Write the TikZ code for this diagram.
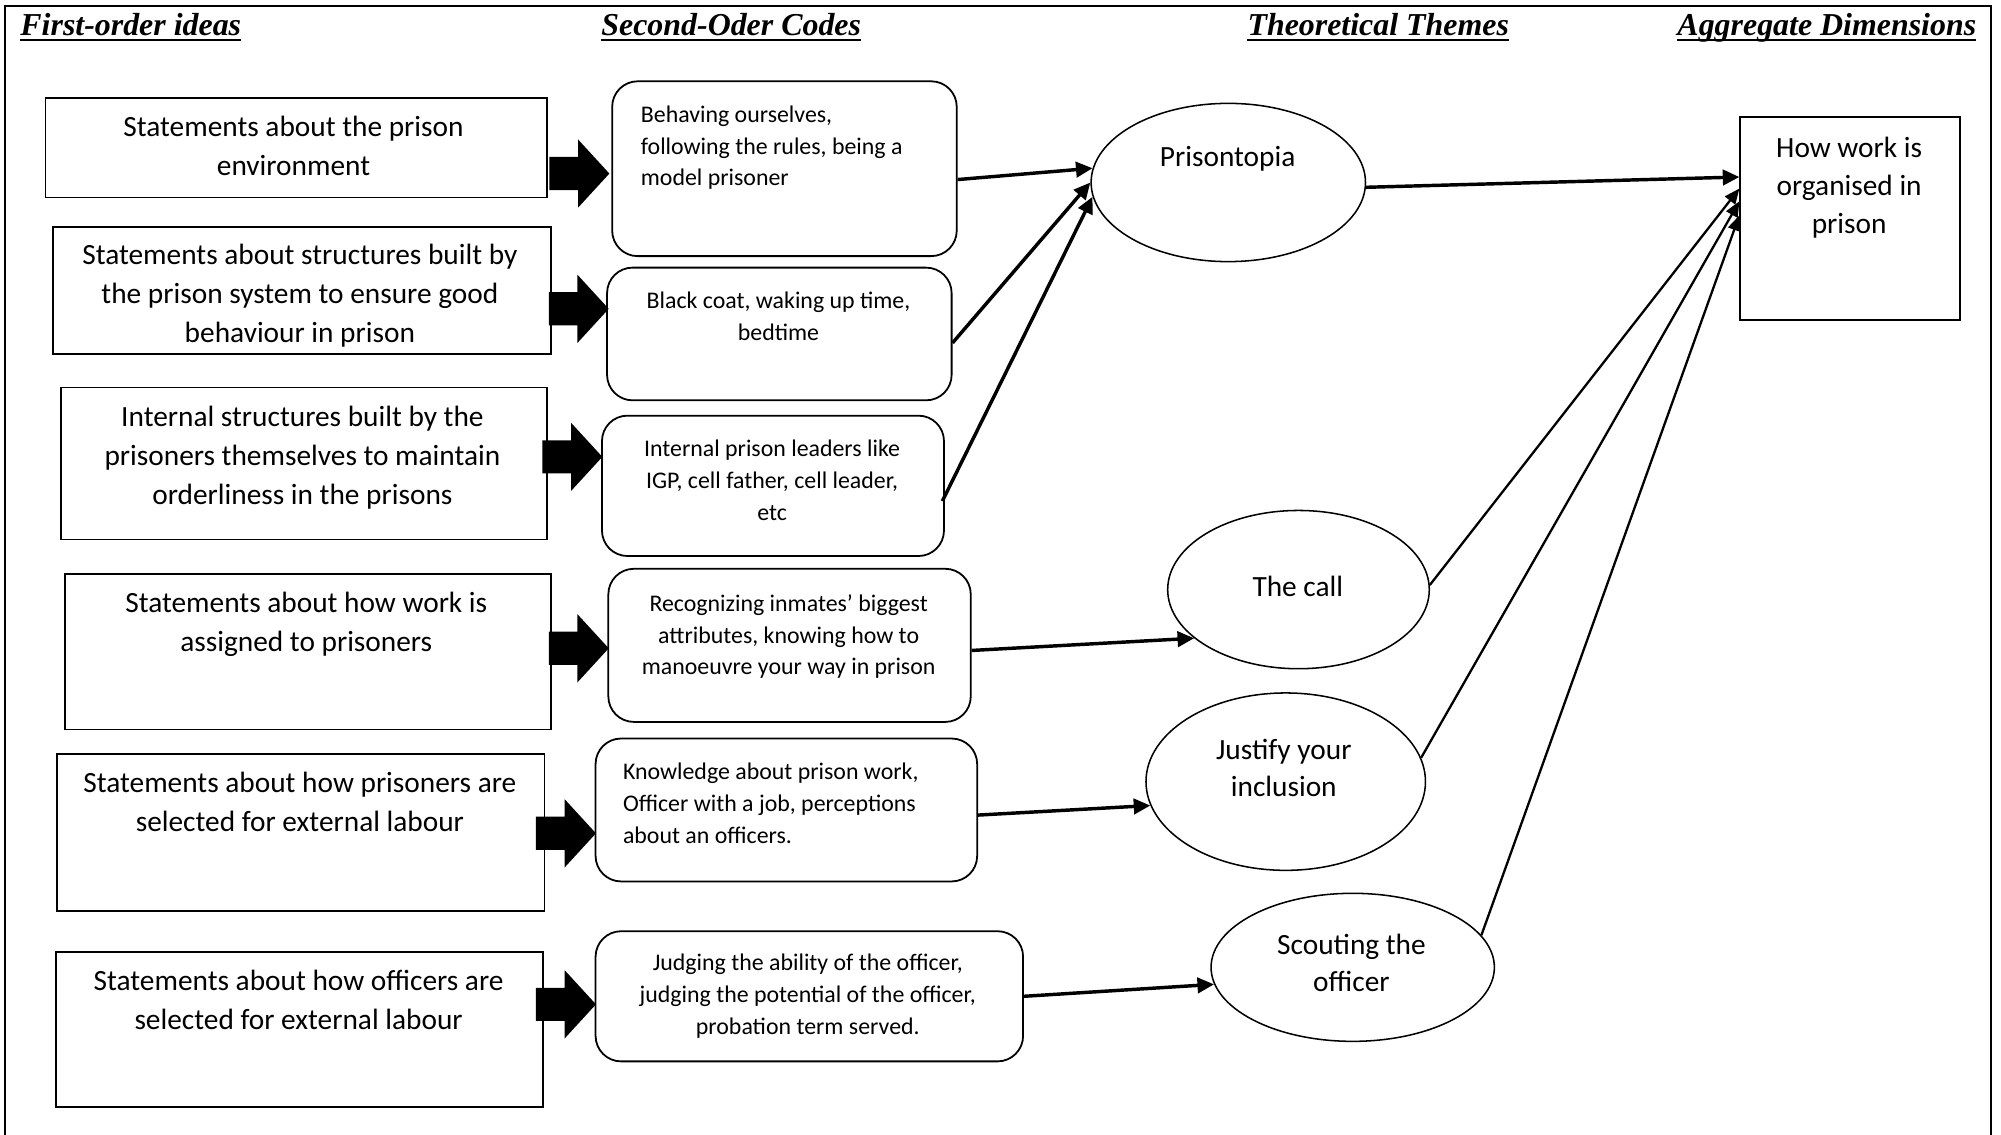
\documentclass[tikz,border=0pt]{standalone}
\usepackage{fontspec}
\setmainfont{Carlito}
\newfontfamily\hdrfont{Liberation Serif}
\usetikzlibrary{arrows.meta,shapes.geometric}
\tikzset{
  fobox/.style={draw, line width=1.4pt, rectangle, inner sep=0pt, anchor=north west},
  sobox/.style={draw, line width=1.4pt, rectangle, rounded corners=20pt, inner sep=0pt, anchor=north west},
  theme/.style={draw, ellipse, line width=1.2pt, inner sep=0pt},
  bigtxt/.style={inner sep=0pt, anchor=north, align=center, font=\fontsize{23}{30.5}\selectfont, execute at begin node={\rule{0pt}{18pt}}},
  ovaltxt/.style={bigtxt, font=\fontsize{23}{29}\selectfont},
  smalltxt/.style={inner sep=0pt, anchor=north, align=center, font=\fontsize{18.7}{25}\selectfont, execute at begin node={\rule{0pt}{15pt}}},
  hdr/.style={inner sep=0pt, anchor=base, font=\fontsize{25}{30}\hdrfont\bfseries\itshape},
  hline/.style={line width=2pt},
  conn/.style={line width=2.7pt, -{Triangle[length=13pt,width=12pt]}},
  thinconn/.style={line width=1.8pt, -{Triangle[length=12pt,width=10pt]}},
  blockarrow/.pic={\fill[black] (0,-13) -- (22.5,-13) -- (22.5,-26.7) -- (47,0) -- (22.5,26.7) -- (22.5,13) -- (0,13) -- cycle;}
}
\begin{document}
\begin{tikzpicture}[x=1pt,y=-1pt]
\useasboundingbox (0,0) rectangle (1568,889);
\draw[line width=1.6pt] (4,889) -- (4,4.5) -- (1560,4.5) -- (1560,889);

% headers
\node[hdr] (h1) at (102.5,28) {First-order ideas};
\node[hdr] (h2) at (573,28) {Second-Oder Codes};
\node[hdr] (h3) at (1080,28) {Theoretical Themes};
\node[hdr] (h4) at (1431.5,28) {Aggregate Dimensions};
\foreach \h in {h1,h2,h3,h4}
  \draw[hline] ([yshift=-3.5pt]\h.base west) -- ([yshift=-3.5pt]\h.base east);

% first-order boxes
\node[fobox, minimum width=393pt, minimum height=78pt] (f1) at (35,76) {};
\node[fobox, minimum width=390pt, minimum height=100pt] (f2) at (41,177) {};
\node[fobox, minimum width=381pt, minimum height=119pt] (f3) at (47,303) {};
\node[fobox, minimum width=381pt, minimum height=122pt] (f4) at (50,449) {};
\node[fobox, minimum width=382pt, minimum height=123pt] (f5) at (44,590) {};
\node[fobox, minimum width=382pt, minimum height=122pt] (f6) at (43,745) {};
\node[bigtxt] (f1t) at (230,91) {Statements about the prison\\environment};
\node[bigtxt] (f2t) at (235,191) {Statements about structures built by\\the prison system to ensure good\\behaviour in prison};
\node[bigtxt] (f3t) at (237,318) {Internal structures built by the\\prisoners themselves to maintain\\orderliness in the prisons};
\node[bigtxt] (f4t) at (240,464) {Statements about how work is\\assigned to prisoners};
\node[bigtxt] (f5t) at (235,605) {Statements about how prisoners are\\selected for external labour};
\node[bigtxt] (f6t) at (234,760) {Statements about how officers are\\selected for external labour};

% second-order boxes
\node[sobox, minimum width=270pt, minimum height=137pt] (s1) at (479,63) {};
\node[sobox, minimum width=270pt, minimum height=104pt] (s2) at (475,209) {};
\node[sobox, minimum width=268pt, minimum height=110pt] (s3) at (471,325) {};
\node[sobox, minimum width=284pt, minimum height=120pt] (s4) at (476,445) {};
\node[sobox, minimum width=299pt, minimum height=112pt] (s5) at (466,578) {};
\node[sobox, minimum width=335pt, minimum height=102pt] (s6) at (466,729) {};
\node[smalltxt, anchor=north west, align=left] (s1t) at (502,82.5) {Behaving ourselves,\\following the rules, being a\\model prisoner};
\node[smalltxt] (s2t) at (610,228.5) {Black coat, waking up time,\\bedtime};
\node[smalltxt] (s3t) at (605,344.5) {Internal prison leaders like\\IGP, cell father, cell leader,\\etc};
\node[smalltxt] (s4t) at (618,465.5) {Recognizing inmates’ biggest\\attributes, knowing how to\\manoeuvre your way in prison};
\node[smalltxt, anchor=north west, align=left] (s5t) at (488,597.5) {Knowledge about prison work,\\Officer with a job, perceptions\\about an officers.};
\node[smalltxt] (s6t) at (633,747.5) {Judging the ability of the officer,\\judging the potential of the officer,\\probation term served.};

% block arrows
\pic at (430.5,136) {blockarrow};
\pic at (430,242) {blockarrow};
\pic at (425,358) {blockarrow};
\pic at (430,508) {blockarrow};
\pic at (420,653) {blockarrow};
\pic at (420,787) {blockarrow};

% themes
\node[theme, minimum width=215pt, minimum height=124pt] (p) at (962.5,143) {};
\node[theme, minimum width=205pt, minimum height=124pt] (c) at (1017.5,462) {};
\node[theme, minimum width=219pt, minimum height=139pt] (j) at (1007.5,612.5) {};
\node[theme, minimum width=222pt, minimum height=116pt] (sc) at (1060,758) {};
\node[ovaltxt] (pt) at (962,112) {Prisontopia};
\node[ovaltxt] (ct) at (1017,449) {The call};
\node[ovaltxt] (jt) at (1006,579) {Justify your\\inclusion};
\node[ovaltxt] (sct) at (1059,732) {Scouting the\\officer};

% aggregate
\node[fobox, minimum width=172pt, minimum height=159pt] (agg) at (1363,91) {};
\node[bigtxt, font=\fontsize{23}{30}\selectfont] (aggt) at (1449,107) {How work is\\organised in\\prison};

% connectors
\draw[conn] ([yshift=-8.5pt]s1.east) -- (p.174);
\draw[conn] ([yshift=-7pt]s2.east) -- (p.180);
\draw[conn] ([yshift=-12pt,xshift=-2pt]s3.east) -- (p.186);
\draw[conn] ([yshift=-4pt]s4.east) -- (c.205);
\draw[conn] ([yshift=-4pt]s5.east) -- (j.190);
\draw[conn] (s6.east) -- (sc.187);
\draw[conn] (p.358) -- ([yshift=32.5pt]agg.west);
\draw[thinconn] (c.2) -- ([yshift=23.5pt]agg.west);
\draw[thinconn] (j.10) -- ([yshift=13.5pt]agg.west);
\draw[thinconn] (sc.14) -- ([yshift=2.5pt]agg.west);
\end{tikzpicture}
\end{document}
